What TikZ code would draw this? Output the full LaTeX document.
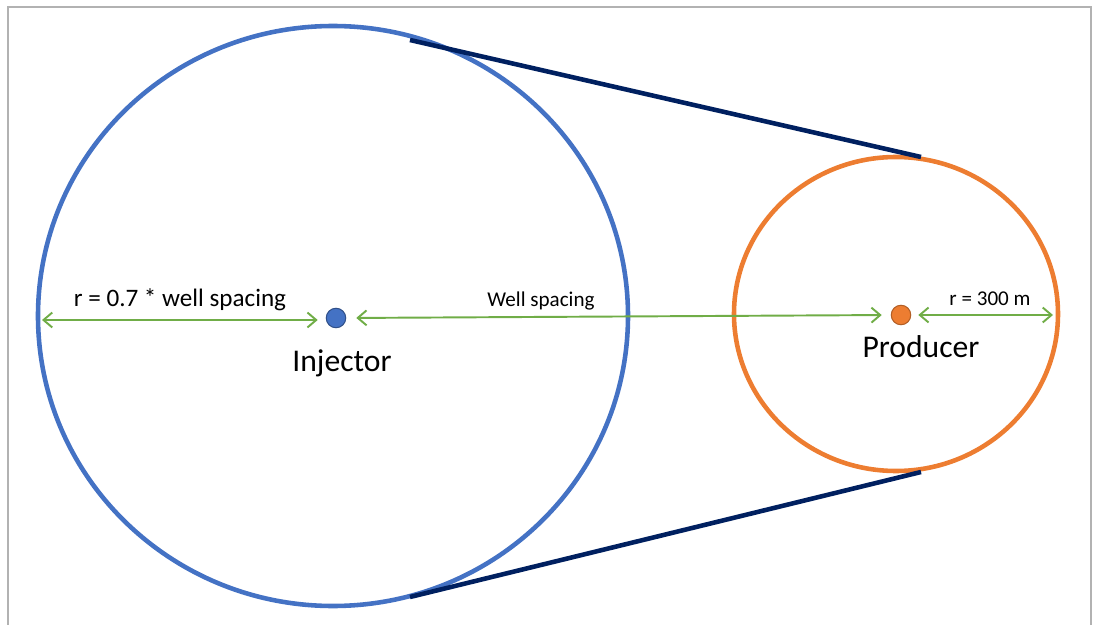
\documentclass[tikz,border=0pt]{standalone}
\usepackage{fontspec}
\setmainfont{Carlito}
\usetikzlibrary{arrows.meta}

\definecolor{injblue}{HTML}{4472C4}
\definecolor{prodorange}{HTML}{ED7D31}
\definecolor{dimgreen}{HTML}{70AD47}
\definecolor{tannavy}{HTML}{002060}

\tikzset{
	well/.style={circle,inner sep=0,minimum size=0.39cm,line width=0.6pt},
	dimarrow/.style={dimgreen,line width=1.1pt,{Straight Barb[length=5pt,width=8.5pt]}-{Straight Barb[length=5pt,width=8.5pt]}},
	bound/.style={line width=2.6pt},
}

\begin{document}
\begin{tikzpicture}[x=0.02cm,y=-0.02cm]
	\useasboundingbox (0,0) rectangle (1093,625);
	\draw[black!30,line width=1.2pt] (8,640) |- (1091,7) -- (1091,640);

	% drainage circles
	\draw[bound,injblue] (333,316) ellipse [x radius=295,y radius=290];
	\draw[bound,prodorange] (896,314) ellipse [x radius=162,y radius=157];

	% tangent lines
	\coordinate (bigtop) at (410,40);
	\coordinate (bigbot) at (410,597);
	\coordinate (smalltop) at (921,157);
	\coordinate (smallbot) at (921,472);
	\draw[bound,tannavy] (bigtop) -- (smalltop);
	\draw[bound,tannavy] (bigbot) -- (smallbot);

	% wells
	\node[well,fill=injblue,draw=injblue!70!black] (inj) at (336,318) {};
	\node[well,fill=prodorange,draw=prodorange!75!black] (prod) at (901,315) {};
	\node[font=\fontsize{18}{22}\selectfont] (injlbl) at (342,363) {Injector};
	\node[font=\fontsize{18}{22}\selectfont] (prodlbl) at (921,347) {Producer};

	% dimensions
	\coordinate (bigleft) at (42,320);
	\coordinate (smallright) at (1053,315);
	\draw[dimarrow,shorten >=0.16cm] (bigleft) -- (inj.west |- bigleft);
	\draw[dimarrow,shorten <=0.2cm,shorten >=0.18cm] (inj.east) -- (prod.west);
	\draw[dimarrow,shorten <=0.14cm] (prod.east) -- (smallright);
	\node[font=\fontsize{14.3}{17}\selectfont] (rbig) at (180,300) {r = 0.7 * well spacing};
	\node[font=\fontsize{12}{14}\selectfont] (spacing) at (541,301) {Well spacing};
	\node[font=\fontsize{12}{14}\selectfont] (rsmall) at (990,299) {r = 300 m};
\end{tikzpicture}
\end{document}
